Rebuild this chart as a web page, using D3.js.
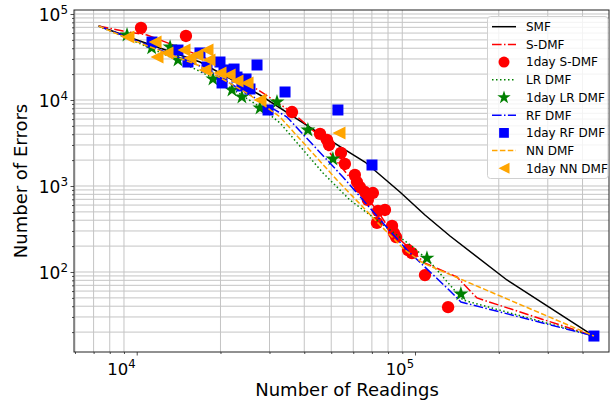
<!DOCTYPE html>
<html>
<head>
<meta charset="utf-8">
<script src="https://cdn.jsdelivr.net/npm/d3@7"></script>
<style>
  html, body { margin: 0; padding: 0; background: #fff; }
  svg { display: block; font-family: "DejaVu Sans", sans-serif; }
</style>
</head>
<body>
<svg id="chart" width="610" height="405"></svg>
<script>
// ---------------- data (Number of Readings, Number of Errors) ----------------
const smf = [[7300,72400],[10020,49900],[16880,27660],[27730,11430],[38600,5700],[53770,2865],[66100,1900],[88300,851],[108600,460],[133600,262],[214000,80.7],[439500,18]];
const sdmf = [[7300,72400],[8930,63400],[10890,57000],[13500,43650],[18340,29150],[28450,12050],[36440,7060],[44440,4030],[49490,2420],[63400,899],[73040,526],[81280,308],[108600,127],[141500,87.5],[167000,49.9],[439500,18]];
const lrdmf = [[7300,72400],[11160,40270],[13960,29150],[20420,15780],[27730,8300],[32730,5410],[46720,1416],[58340,688],[98400,195],[113200,131],[148800,47.2],[439500,18]];
const rfdmf = [[7300,72400],[10280,47200],[16880,24850],[25530,11430],[34670,6340],[55080,1274],[76740,372],[93550,180],[130300,65.2],[146300,44.8],[439500,18]];
const nndmf = [[7300,72400],[9230,52600],[16880,24850],[25530,11430],[32730,6340],[52430,1175],[74840,352],[92050,180],[106900,127],[439500,18]];

const day1S = [[10360,68800],[15030,55500],[36140,7250],[45580,4030],[48290,3430],[49100,2999],[54200,2420],[55990,1803],[60800,1343],[61880,1113],[63400,973],[66100,851],[70600,829],[67700,688],[73600,512],[78000,526],[73000,372],[82700,343],[84000,284],[85500,255],[94400,180],[97500,166],[108600,92],[131500,39]];
const day1LR = [[9230,57000],[11320,40300],[13180,41300],[14070,29150],[18790,17540],[21990,13070],[23880,10830],[27730,8070],[31920,9480],[41230,4480],[50700,2060],[110400,145],[146200,55.5]];
const day1RF = [[11350,47200],[14070,38100],[15280,27660],[16880,35240],[17890,24200],[19920,27660],[20590,22340],[22380,22910],[22930,18490],[24710,17540],[27060,25530],[20260,15780],[23880,14560],[25530,13430],[29640,7650],[34120,12390],[52850,7650],[70060,1754],[439500,18]];
const day1NN = [[9305,54030],[11640,47200],[11830,31620],[12850,35200],[14790,38100],[15540,30760],[16470,33340],[17890,38100],[18190,29150],[17600,22340],[19920,20610],[21480,19540],[22930,16640],[24920,15780],[27730,10000],[53330,4130]];

const xMajorTicks = [1e4, 1e5];
const yMajorTicks = [1e2, 1e3, 1e4, 1e5];
const legendLabels = ["SMF","S-DMF","1day S-DMF","LR DMF","1day LR DMF","RF DMF","1day RF DMF","NN DMF","1day NN DMF"];
const xTitle = "Number of Readings";
const yTitle = "Number of Errors";

// ---------------- layout ----------------
const L = 74, R = 609, T = 10, B = 352;
const svg = d3.select("#chart");
const x = d3.scaleLog().domain([5952, 497900]).range([L, R]);
const y = d3.scaleLog().domain([11.74, 111300]).range([B, T]);

function logTicks(lo, hi) {
  const out = [];
  for (let e = Math.floor(Math.log10(lo)); e <= Math.ceil(Math.log10(hi)); e++) {
    for (let m = 1; m <= 9; m++) {
      const v = m * Math.pow(10, e);
      if (v >= lo && v <= hi) out.push(v);
    }
  }
  return out;
}
const xAll = logTicks(5952, 497900);
const yAll = logTicks(11.74, 111300);
const isPow = v => Math.abs(Math.log10(v) - Math.round(Math.log10(v))) < 1e-9;

// grid
const grid = svg.append("g").attr("stroke", "#c4c4c4").attr("stroke-width", 1);
xAll.filter(v => !isPow(v)).forEach(v => {
  grid.append("line").attr("x1", x(v)).attr("x2", x(v)).attr("y1", T).attr("y2", B);
});
yAll.forEach(v => {
  grid.append("line").attr("x1", L).attr("x2", R).attr("y1", y(v)).attr("y2", y(v));
});

// axes via d3 axis generators (ticks only)
const xAxis = d3.axisBottom(x).tickValues(xAll).tickFormat("").tickSizeOuter(0).tickSize(3);
const gx = svg.append("g").attr("transform", `translate(0,${B})`).call(xAxis);
gx.select(".domain").remove();
gx.selectAll(".tick line").attr("stroke", "#222").attr("stroke-width", 0.8)
  .attr("y2", d => isPow(d) ? 3.5 : 2);

const yAxis = d3.axisLeft(y).tickValues(yAll).tickFormat("").tickSizeOuter(0).tickSize(3);
const gy = svg.append("g").attr("transform", `translate(${L},0)`).call(yAxis);
gy.select(".domain").remove();
gy.selectAll(".tick line").attr("stroke", "#222").attr("stroke-width", 0.8)
  .attr("x2", d => isPow(d) ? -3.5 : -2);

// tick labels with superscripts
function powLabel(g, v, xp, yp, anchor, fs) {
  const t = g.append("text").attr("x", xp).attr("y", yp).attr("text-anchor", anchor)
    .attr("fill", "#000").attr("font-size", fs);
  t.append("tspan").text("10");
  t.append("tspan").attr("font-size", fs * 0.7).attr("dy", -7).text(String(Math.round(Math.log10(v))));
}
const lab = svg.append("g");
xMajorTicks.forEach(v => powLabel(lab, v, x(v) - 1, 375, "end", 16.5));
yMajorTicks.forEach(v => powLabel(lab, v, L - 6, y(v) + 7, "end", 17));

// axis titles
svg.append("text").attr("x", 347).attr("y", 396).attr("text-anchor", "middle")
  .attr("font-size", 18).text(xTitle);
svg.append("text").attr("transform", `translate(27,${(T + B) / 2}) rotate(-90)`)
  .attr("text-anchor", "middle").attr("font-size", 18).text(yTitle);

// clip
svg.append("clipPath").attr("id", "clip").append("rect")
  .attr("x", L).attr("y", T).attr("width", R - L).attr("height", B - T);
const plot = svg.append("g").attr("clip-path", "url(#clip)");

const line = d3.line().x(d => x(d[0])).y(d => y(d[1]));
const styles = {
  smf: { color: "black", dash: null },
  sdmf: { color: "red", dash: "9.6,2.4,1.5,2.4" },
  lr: { color: "green", dash: "1.5,2.5" },
  rf: { color: "blue", dash: "9.6,2.4,1.5,2.4" },
  nn: { color: "orange", dash: "5.5,2.4" }
};
function drawLine(data, st) {
  plot.append("path").datum(data).attr("d", line).attr("fill", "none")
    .attr("stroke", st.color).attr("stroke-width", 1.5)
    .attr("stroke-dasharray", st.dash);
}
const circleSym = d3.symbol().type(d3.symbolCircle).size(120);
const starSym = d3.symbol().type(d3.symbolStar).size(70);
const squareSym = d3.symbol().type(d3.symbolSquare).size(121);
const triPath = s => `M${-s},0L${s},${-s}L${s},${s}Z`;

function drawMarkers(data, pathStr, color) {
  plot.append("g").selectAll("path").data(data).join("path")
    .attr("transform", d => `translate(${x(d[0])},${y(d[1])})`)
    .attr("d", pathStr).attr("fill", color);
}

drawLine(smf, styles.smf);
drawLine(sdmf, styles.sdmf);
drawMarkers(day1S, circleSym(), "red");
drawLine(lrdmf, styles.lr);
drawMarkers(day1LR, starSym(), "green");
drawLine(rfdmf, styles.rf);
drawMarkers(day1RF, squareSym(), "blue");
drawLine(nndmf, styles.nn);
drawMarkers(day1NN, triPath(6.5), "orange");

// frame
svg.append("rect").attr("x", L).attr("y", T).attr("width", R - L).attr("height", B - T)
  .attr("fill", "none").attr("stroke", "#222").attr("stroke-width", 1);

// legend
const lg = svg.append("g");
lg.append("rect").attr("x", 487.5).attr("y", 16.5).attr("width", 120.5).attr("height", 162)
  .attr("rx", 3).attr("fill", "white").attr("fill-opacity", 0.8).attr("stroke", "#d0d0d0");
const legendKinds = [
  { t: "line", st: styles.smf },
  { t: "line", st: styles.sdmf },
  { t: "mk", d: d3.symbol().type(d3.symbolCircle).size(95)(), c: "red" },
  { t: "line", st: styles.lr },
  { t: "mk", d: d3.symbol().type(d3.symbolStar).size(55)(), c: "green" },
  { t: "line", st: styles.rf },
  { t: "mk", d: d3.symbol().type(d3.symbolSquare).size(95)(), c: "blue" },
  { t: "line", st: styles.nn },
  { t: "mk", d: triPath(5.5), c: "orange" }
];
legendLabels.forEach((name, i) => {
  const yy = 26.7 + i * 17.7;
  const k = legendKinds[i];
  if (k.t === "line") {
    lg.append("line").attr("x1", 492).attr("x2", 516).attr("y1", yy).attr("y2", yy)
      .attr("stroke", k.st.color).attr("stroke-width", 1.5).attr("stroke-dasharray", k.st.dash);
  } else {
    lg.append("path").attr("transform", `translate(504,${yy})`).attr("d", k.d).attr("fill", k.c);
  }
  lg.append("text").attr("x", 526).attr("y", yy + 4.3).attr("font-size", 12).text(name);
});
</script>
</body>
</html>
